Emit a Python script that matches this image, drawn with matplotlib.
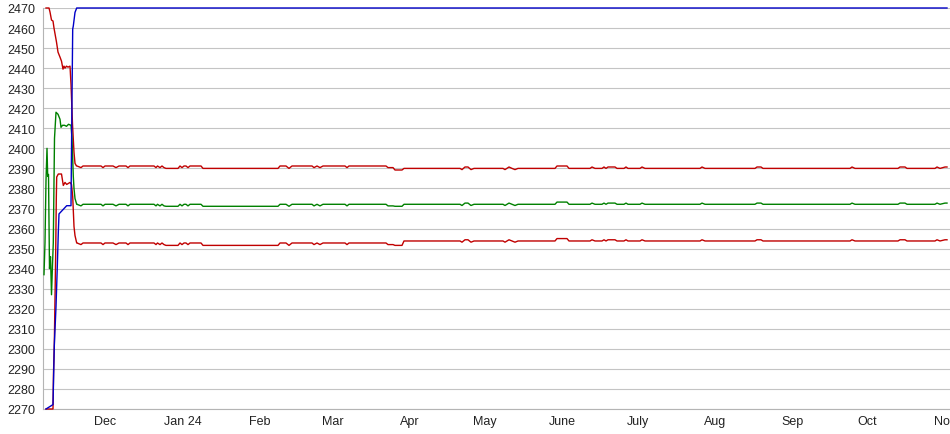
import matplotlib
matplotlib.use('Agg')
import matplotlib.pyplot as plt
import pandas as pd
import numpy as np

start = pd.Timestamp('2023-11-06')

# early (volatile) part of each series: days since start, value
upper_early_days = [1.4, 2.6, 3.0, 3.6, 4.2, 4.6, 5.6, 6.2, 7.0, 7.6, 8.2, 8.6, 9.0, 9.6, 10.2, 11.0, 11.4, 12.0, 12.6, 13.0, 13.6]
upper_early = [2470, 2470, 2468, 2464, 2463.5, 2460, 2453, 2448, 2445.5, 2443.5, 2439.5, 2441, 2440, 2441, 2440.5, 2441, 2432, 2412, 2398, 2392.5, 2391.2]

mid_early_days = [0.6, 1.0, 1.4, 1.8, 2.08, 2.4, 2.8, 3.2, 3.6, 4.0, 4.32, 4.8, 5.4, 6.2, 7.0, 7.4, 8.0, 8.8, 9.6, 10.4, 11.4, 11.8, 12.32, 12.6, 13.0, 13.68]
mid_early = [2337, 2353, 2384, 2400, 2386, 2387, 2340, 2346, 2327, 2342, 2353, 2405, 2418, 2417, 2414.5, 2410.5, 2411.5, 2411.5, 2411, 2412, 2411.5, 2405, 2386, 2380, 2375, 2372.1]

lower_early_days = [1.4, 4.2, 4.4, 4.72, 5.0, 5.28, 5.52, 5.68, 6.32, 7.6, 8.32, 9.0, 9.68, 11.0, 11.6, 12.08, 12.6, 13.0, 13.68]
lower_early = [2270, 2270, 2288, 2302, 2325, 2348, 2375, 2385.7, 2387.2, 2387.2, 2381.5, 2383, 2382, 2383, 2382, 2376, 2361, 2356.5, 2352.8]

blue_days = [1.4, 4.2, 4.72, 5.4, 5.92, 6.32, 6.6, 9.68, 11.4, 11.68, 12.08, 12.32, 13.0, 13.68, 361.8]
blue_vals = [2270, 2272.2, 2301.6, 2321, 2341, 2358, 2367.3, 2371.4, 2371.4, 2410, 2459.5, 2461, 2467.8, 2470, 2470]

# settled part, shared days for the three band lines
flat_days = [13.8, 15.4, 16.2, 23.4, 24.2, 25.0, 28.2, 29.4, 30.6, 33.4,
             34.2, 35.0, 44.6, 45.4, 46.0, 47.0, 47.8, 48.6, 49.4, 54.2,
             55.0, 55.8, 56.6, 57.4, 58.2, 59.0, 63.4, 64.2, 94.2, 95.0,
             97.4, 98.6, 99.8, 107.8, 108.6, 109.8, 111.0, 112.2, 121.0, 121.8,
             122.6, 137.4, 138.2, 140.2, 141.0, 143.8, 144.6, 167.0, 167.8, 169.0,
             170.2, 171.4, 172.6, 184.2, 185.0, 186.6, 187.8, 189.0, 190.2, 205.0,
             205.8, 209.8, 210.6, 219.0, 219.8, 221.0, 223.8, 224.6, 225.4, 226.2,
             229.0, 229.8, 232.6, 233.4, 234.2, 239.0, 239.8, 241.0, 263.0, 263.8,
             265.0, 285.0, 285.8, 287.4, 288.2, 323.0, 323.8, 325.0, 342.2, 343.0,
             345.0, 345.8, 357.0, 357.8, 359.0, 361.0, 361.8]

upper_flat = [2391.2, 2390.4, 2391.2, 2391.2, 2390.4, 2391.2, 2391.2, 2390.4, 2391.2, 2391.2,
              2390.4, 2391.2, 2391.2, 2390.4, 2391.2, 2390.4, 2391.2, 2390.4, 2390.0, 2390.0,
              2391.2, 2390.4, 2391.2, 2391.2, 2390.4, 2391.2, 2391.2, 2390.0, 2390.0, 2391.2,
              2391.2, 2390.0, 2391.2, 2391.2, 2390.4, 2391.2, 2390.4, 2391.2, 2391.2, 2390.4,
              2391.2, 2391.2, 2390.4, 2390.4, 2389.2, 2389.2, 2390.0, 2390.0, 2389.4, 2390.7,
              2390.7, 2389.4, 2390.0, 2390.0, 2389.4, 2390.7, 2390.0, 2389.4, 2390.0, 2390.0,
              2391.2, 2391.2, 2390.0, 2390.0, 2390.7, 2390.0, 2390.0, 2390.7, 2390.0, 2390.7,
              2390.7, 2390.0, 2390.0, 2390.7, 2390.0, 2390.0, 2390.7, 2390.0, 2390.0, 2390.7,
              2390.0, 2390.0, 2390.7, 2390.7, 2390.0, 2390.0, 2390.7, 2390.0, 2390.0, 2390.7,
              2390.7, 2390.0, 2390.0, 2390.7, 2390.0, 2390.7, 2390.7]

mid_flat = [2372.1, 2371.3, 2372.1, 2372.1, 2371.3, 2372.1, 2372.1, 2371.3, 2372.1, 2372.1,
            2371.3, 2372.1, 2372.1, 2371.3, 2372.1, 2371.3, 2372.1, 2371.3, 2371.1, 2371.1,
            2372.1, 2371.3, 2372.1, 2372.1, 2371.3, 2372.1, 2372.1, 2371.1, 2371.1, 2372.1,
            2372.1, 2371.1, 2372.1, 2372.1, 2371.3, 2372.1, 2371.3, 2372.1, 2372.1, 2371.3,
            2372.1, 2372.1, 2371.3, 2371.3, 2371.1, 2371.1, 2372.1, 2372.1, 2371.5, 2372.7,
            2372.7, 2371.5, 2372.1, 2372.1, 2371.5, 2372.7, 2372.1, 2371.5, 2372.1, 2372.1,
            2373.2, 2373.2, 2372.1, 2372.1, 2372.7, 2372.1, 2372.1, 2372.7, 2372.1, 2372.7,
            2372.7, 2372.1, 2372.1, 2372.7, 2372.1, 2372.1, 2372.7, 2372.1, 2372.1, 2372.7,
            2372.1, 2372.1, 2372.7, 2372.7, 2372.1, 2372.1, 2372.7, 2372.1, 2372.1, 2372.7,
            2372.7, 2372.1, 2372.1, 2372.7, 2372.1, 2372.7, 2372.7]

lower_flat = [2352.8, 2352.0, 2352.8, 2352.8, 2352.0, 2352.8, 2352.8, 2352.0, 2352.8, 2352.8,
              2352.0, 2352.8, 2352.8, 2352.0, 2352.8, 2352.0, 2352.8, 2352.0, 2351.6, 2351.6,
              2352.8, 2352.0, 2352.8, 2352.8, 2352.0, 2352.8, 2352.8, 2351.6, 2351.6, 2352.8,
              2352.8, 2351.6, 2352.8, 2352.8, 2352.0, 2352.8, 2352.0, 2352.8, 2352.8, 2352.0,
              2352.8, 2352.8, 2352.0, 2352.0, 2351.6, 2351.6, 2353.8, 2353.8, 2353.2, 2354.4,
              2354.4, 2353.2, 2353.8, 2353.8, 2353.2, 2354.4, 2353.8, 2353.2, 2353.8, 2353.8,
              2355.0, 2355.0, 2353.8, 2353.8, 2354.4, 2353.8, 2353.8, 2354.4, 2353.8, 2354.4,
              2354.4, 2353.8, 2353.8, 2354.4, 2353.8, 2353.8, 2354.4, 2353.8, 2353.8, 2354.4,
              2353.8, 2353.8, 2354.4, 2354.4, 2353.8, 2353.8, 2354.4, 2353.8, 2353.8, 2354.4,
              2354.4, 2353.8, 2353.8, 2354.4, 2353.8, 2354.4, 2354.4]

month_ticks = ['2023-12-01', '2024-01-01', '2024-02-01', '2024-03-01', '2024-04-01', '2024-05-01',
               '2024-06-01', '2024-07-01', '2024-08-01', '2024-09-01', '2024-10-01', '2024-11-01']
month_labels = ['Dec', 'Jan 24', 'Feb', 'Mar', 'Apr', 'May', 'June', 'July', 'Aug', 'Sep', 'Oct', 'Nov']
y_ticks = list(range(2270, 2471, 10))


def to_dates(days):
    return start + pd.to_timedelta(np.array(days), unit='D')


plt.rcParams['font.family'] = ['Liberation Sans', 'DejaVu Sans']

fig = plt.figure(figsize=(9.5, 4.35), dpi=100)
ax = fig.add_axes([42.5 / 950, 25 / 435, 907.5 / 950, 401 / 435])

lw = 1.0
ax.plot(to_dates(lower_early_days + flat_days), lower_early + lower_flat, color='#c00000', lw=lw, clip_on=False, zorder=3)
ax.plot(to_dates(upper_early_days + flat_days), upper_early + upper_flat, color='#c00000', lw=lw, clip_on=False, zorder=3)
ax.plot(to_dates(mid_early_days + flat_days), mid_early + mid_flat, color='#008000', lw=lw, clip_on=False, zorder=4)
ax.plot(to_dates(blue_days), blue_vals, color='#0000c8', lw=lw, clip_on=False, zorder=5)

ax.set_xlim(start, start + pd.Timedelta(days=363))
ax.set_ylim(2270, 2470)
ax.set_yticks(y_ticks)
ax.set_xticks(pd.to_datetime(month_ticks))
ax.set_xticklabels(month_labels)
ax.tick_params(axis='both', length=0, labelsize=9, colors='#222222')
ax.tick_params(axis='y', pad=5)
ax.tick_params(axis='x', pad=4)

ax.grid(axis='y', color='#c4c4c4', lw=0.8)
ax.set_axisbelow(True)
for s in ['top', 'right']:
    ax.spines[s].set_visible(False)
for s in ['left', 'bottom']:
    ax.spines[s].set_color('#b4b4b4')
    ax.spines[s].set_linewidth(0.8)

fig.savefig('out.png', dpi=100)
